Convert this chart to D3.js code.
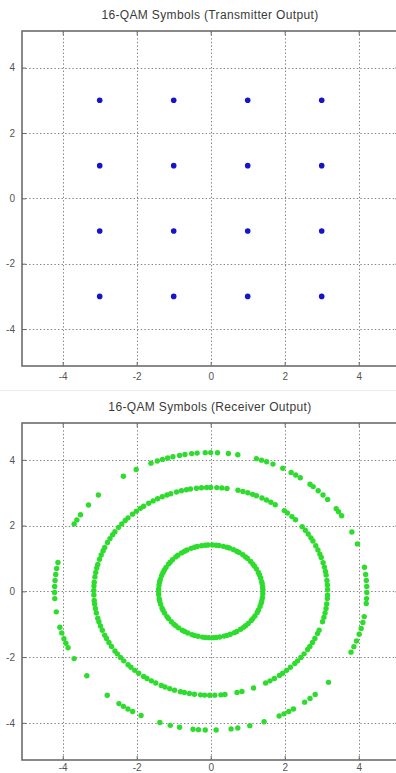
<!DOCTYPE html>
<html>
<head>
<meta charset="utf-8">
<script src="https://cdn.jsdelivr.net/npm/d3@7/dist/d3.min.js"></script>
<style>
  html, body { margin: 0; padding: 0; background: #fff; }
  svg { display: block; }
  text { font-family: Arial, "Liberation Sans", sans-serif; }
</style>
</head>
<body>
<svg id="fig" width="396" height="773"></svg>
<script>
// Axis ticks shared by both panels
const xTicks = [-4, -2, 0, 2, 4];
const yTicks = [-4, -2, 0, 2, 4];

// Panel titles
const titles = ["16-QAM Symbols (Transmitter Output)", "16-QAM Symbols (Receiver Output)"];

// Transmitted constellation: in-phase / quadrature levels
const txLevels = [-3, -1, 1, 3];

// Received symbols: three amplitude rings with the observed phase of each symbol (degrees)
const ringRadius = [1.41, 3.16, 4.22];

const innerAngles = [2, 5, 9, 12, 17, 21, 24, 29, 33, 36, 40, 45, 48, 52, 57, 60, 64, 69, 72, 76,
  81, 84, 88, 93, 96, 100, 105, 108, 112, 117, 120, 124, 129, 132, 137, 141, 144, 149, 153, 156,
  160, 165, 168, 172, 177, 180, 184, 189, 192, 196, 201, 204, 208, 213, 216, 221, 225, 228, 232, 237,
  240, 244, 249, 252, 256, 261, 264, 268, 273, 276, 280, 285, 288, 292, 297, 300, 305, 309, 312, 316,
  321, 324, 328, 333, 336, 341, 345, 348, 352, 357];

const middleAngles = [1, 3.5, 6, 9, 11, 13.5, 16, 19, 21, 23.5, 26, 29, 31, 33.5, 36, 38.5,
  43.5, 46, 49, 51, 56.5, 59, 61.5, 64, 67, 69, 71.5, 74, 76.5,
  82, 84.5, 87, 90, 92, 94.5, 97, 100, 102, 104.5, 107, 110, 112, 114.5, 117, 119.5, 122, 125, 127,
  129.5, 132, 135, 137, 139.5, 142, 145, 147, 149.5, 152, 155, 157, 159.5, 162, 165, 167, 169.5,
  172, 175, 177, 179.5, 182, 185, 187, 189.5, 192, 195, 197, 199.5, 202, 205, 207, 209.5, 212, 215,
  217, 219.5, 222, 225, 227, 229.5, 232, 235, 237, 239.5, 242, 245, 247, 249.5, 252, 255, 257,
  259.5, 262, 265, 267, 269.5, 272, 275, 277, 283, 285.5, 291.5, 298, 300.5, 303, 306, 308,
  310.5, 313, 316, 318, 320.5, 323, 326, 328, 330.5, 333, 336, 338, 343, 345.5, 348, 350.5, 353,
  356, 358];

const outerAngles = [334, 336.5, 339, 342, 344.5, 347, 349.5, 355, 357, 359.5, 2, 4.5, 7, 10,
  20, 25.3, 33, 35, 36.5, 41.5, 44, 46.5, 49, 50.5, 55, 57, 59, 62.5, 66.5, 69, 71, 73,
  80, 83.5, 87.5, 90, 92, 95, 97, 99.5, 101.5, 104, 106, 108, 110, 112.5, 118.5, 124,
  136, 141.5, 146.5, 149, 151, 168, 170.5, 173, 175.5, 178, 180.5, 183, 188.5,
  195, 197.5, 200, 202, 204, 209, 217.5, 228.5, 234, 236, 238, 240, 243.5,
  251, 255, 258.5, 263.5, 265.5, 268, 272, 277.5, 280, 284.5, 290, 296, 298, 300, 302,
  307, 309.5, 312, 319];

const svg = d3.select("#fig");

// Faint seam between the two stacked figures
svg.append("line")
  .attr("x1", 0).attr("x2", 396).attr("y1", 390.5).attr("y2", 390.5)
  .attr("stroke", "#ececec").attr("stroke-width", 1);

function drawPanel(opts) {
  const { top, bottom, left, title, id, labelPad } = opts;
  const x = d3.scaleLinear().domain([-5.1, 5.1]).range([left, left + 10.2 * 37]);
  const y = d3.scaleLinear().domain([-5.13, 5.12]).range([bottom, top]);
  const right = x.range()[1];
  const g = svg.append("g");

  g.append("clipPath").attr("id", id)
    .append("rect").attr("x", left).attr("y", top)
    .attr("width", right - left).attr("height", bottom - top);

  // Dotted grid
  const grid = g.append("g").attr("stroke", "#838383").attr("stroke-width", 1)
    .attr("stroke-dasharray", "1.4,2.2");
  grid.selectAll("line.vx").data(xTicks).join("line")
    .attr("x1", d => Math.round(x(d)) + 0.5).attr("x2", d => Math.round(x(d)) + 0.5)
    .attr("y1", top).attr("y2", bottom);
  grid.selectAll("line.hy").data(yTicks).join("line")
    .attr("y1", d => Math.round(y(d)) + 0.5).attr("y2", d => Math.round(y(d)) + 0.5)
    .attr("x1", left).attr("x2", right);

  // Axes with inward ticks on all four sides
  const fmt = d => String(d);
  const axStyle = sel => {
    sel.select(".domain").remove();
    sel.selectAll(".tick line").attr("stroke", "#666").attr("stroke-width", 1);
    sel.selectAll(".tick text").attr("fill", "#555").attr("font-size", 10);
  };
  g.append("g").attr("transform", `translate(0,${bottom})`)
    .call(d3.axisBottom(x).tickValues(xTicks).tickFormat(fmt).tickSizeInner(-4).tickPadding(labelPad))
    .call(axStyle);
  g.append("g").attr("transform", `translate(0,${top})`)
    .call(d3.axisTop(x).tickValues(xTicks).tickFormat("").tickSizeInner(-4))
    .call(axStyle);
  g.append("g").attr("transform", `translate(${left},0)`)
    .call(d3.axisLeft(y).tickValues(yTicks).tickFormat(fmt).tickSizeInner(-4).tickPadding(7))
    .call(axStyle);
  g.append("g").attr("transform", `translate(${right},0)`)
    .call(d3.axisRight(y).tickValues(yTicks).tickFormat("").tickSizeInner(-4))
    .call(axStyle);

  // Box
  g.append("rect").attr("x", left).attr("y", top)
    .attr("width", right - left).attr("height", bottom - top)
    .attr("fill", "none").attr("stroke", "#6c6c6c").attr("stroke-width", 1.6);

  // Title
  g.append("text").attr("x", 210).attr("y", top - 12)
    .attr("text-anchor", "middle").attr("font-size", 12).attr("letter-spacing", 0.35)
    .attr("fill", "#3a3a3a")
    .text(title);

  return { x, y, g: g.append("g").attr("clip-path", `url(#${id})`) };
}

// Transmitter constellation
const p1 = drawPanel({ top: 31, bottom: 366, left: 22, title: titles[0], id: "clipTx", labelPad: 7 });
const txSymbols = d3.cross(txLevels, txLevels);
p1.g.selectAll("circle").data(txSymbols).join("circle")
  .attr("cx", d => p1.x(d[0])).attr("cy", d => p1.y(d[1]))
  .attr("r", 2.8).attr("fill", "#1414cc");

// Receiver output
const p2 = drawPanel({ top: 423, bottom: 760, left: 22, title: titles[1], id: "clipRx", labelPad: 4 });
const rxSymbols = [innerAngles, middleAngles, outerAngles].flatMap((angles, i) =>
  angles.map(a => ({ r: ringRadius[i], a: a * Math.PI / 180 })));
p2.g.selectAll("circle").data(rxSymbols).join("circle")
  .attr("cx", d => p2.x(d.r * Math.cos(d.a))).attr("cy", d => p2.y(d.r * Math.sin(d.a)))
  .attr("r", 2.7).attr("fill", "#2edc2e");
</script>
</body>
</html>
